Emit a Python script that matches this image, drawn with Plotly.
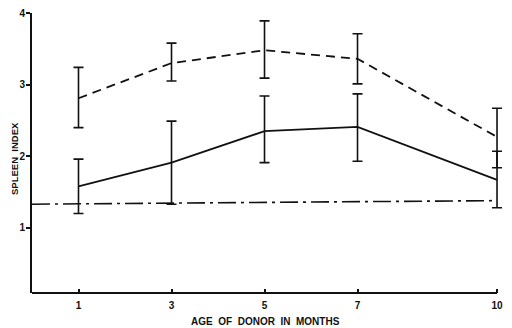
import plotly.graph_objects as go

ages = [1, 3, 5, 7, 10]
tick_labels = ["1", "3", "5", "7", "10"]

dashed_mean = [2.81, 3.30, 3.48, 3.36, 2.27]
dashed_upper = [3.24, 3.58, 3.89, 3.71, 2.67]
dashed_lower = [2.40, 3.05, 3.09, 3.01, 1.84]

solid_mean = [1.58, 1.91, 2.35, 2.41, 1.67]
solid_upper = [1.96, 2.49, 2.84, 2.87, 2.07]
solid_lower = [1.20, 1.33, 1.91, 1.93, 1.28]

control_x = [0, 10]
control_y = [1.33, 1.38]

FAM = "Liberation Sans, Arial, sans-serif"
INK = "#111"

def err(mean, up, lo):
    return dict(type="data", symmetric=False,
                array=[u - m for u, m in zip(up, mean)],
                arrayminus=[m - l for m, l in zip(mean, lo)],
                color=INK, thickness=1.6, width=5)

fig = go.Figure()
fig.add_trace(go.Scatter(x=control_x, y=control_y, mode="lines",
                         line=dict(color=INK, width=1.6, dash="18px,5px,3px,5px"),
                         showlegend=False, hoverinfo="skip"))
fig.add_trace(go.Scatter(x=ages, y=dashed_mean, mode="lines",
                         line=dict(color=INK, width=1.8, dash="9px,6px"),
                         error_y=err(dashed_mean, dashed_upper, dashed_lower),
                         showlegend=False, hoverinfo="skip"))
fig.add_trace(go.Scatter(x=ages, y=solid_mean, mode="lines",
                         line=dict(color=INK, width=1.8),
                         error_y=err(solid_mean, solid_upper, solid_lower),
                         showlegend=False, hoverinfo="skip"))

# bottom axis line ending at the last age
fig.add_shape(type="line", xref="x", yref="paper", x0=0, x1=max(ages), y0=0, y1=0,
              line=dict(color=INK, width=2))

fig.add_annotation(text="<b>AGE&nbsp; OF&nbsp; DONOR&nbsp; IN&nbsp; MONTHS</b>",
                   xref="paper", yref="paper", x=0.494, y=0, yanchor="middle",
                   yshift=-28, showarrow=False, font=dict(family=FAM, size=10, color=INK))
fig.add_annotation(text="<b>SPLEEN&nbsp; INDEX</b>", textangle=-90,
                   xref="paper", yref="paper", x=0, y=0.5, xanchor="center", yanchor="middle",
                   xshift=-18, yshift=-6, showarrow=False,
                   font=dict(family=FAM, size=9.5, color=INK))

fig.update_layout(
    width=512, height=328,
    margin=dict(l=32, r=8, t=13, b=35),
    paper_bgcolor="white", plot_bgcolor="white",
    font=dict(family=FAM, size=9, color=INK),
    xaxis=dict(range=[0, 10.15], tickvals=ages,
               ticktext=["<b>%s</b>" % t for t in tick_labels],
               ticks="inside", ticklen=4, tickwidth=1.5, tickcolor=INK,
               ticklabelstandoff=5,
               showline=False, showgrid=False, zeroline=False, automargin=False,
               tickfont=dict(family=FAM, size=10, color=INK)),
    yaxis=dict(range=[0.09, 4.0], tickvals=[1, 2, 3, 4],
               ticktext=["<b>1</b>", "<b>2</b>", "<b>3</b>", "<b>4</b>"],
               ticks="outside", ticklen=4, tickwidth=1.5, tickcolor=INK,
               ticklabelstandoff=-1,
               showline=True, linecolor=INK, linewidth=2,
               showgrid=False, zeroline=False, automargin=False,
               tickfont=dict(family=FAM, size=10, color=INK)),
)
fig.write_html("out.html", config={"displayModeBar": False},
               post_script="document.body.style.margin='0';")
